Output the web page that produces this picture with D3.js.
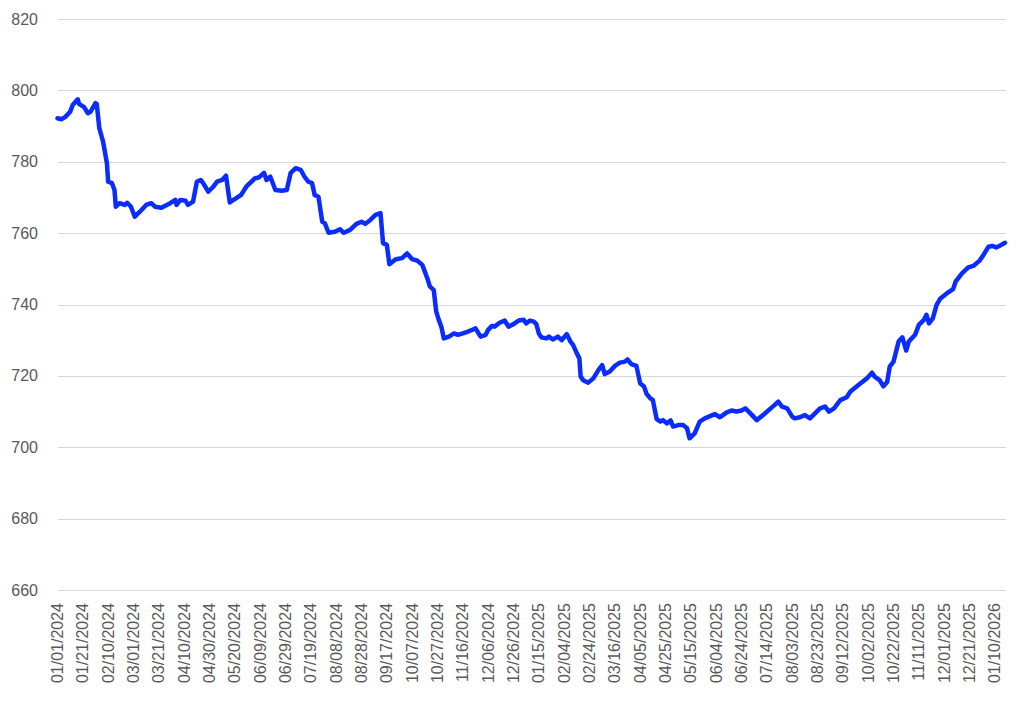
<!DOCTYPE html>
<html>
<head>
<meta charset="utf-8">
<script src="https://cdn.jsdelivr.net/npm/d3@7"></script>
<style>
  body { margin: 0; background: #fff; }
  text { font-family: "Liberation Sans", Arial, sans-serif; font-size: 16px; fill: #595959; }
</style>
</head>
<body>
<div id="chart"></div>
<script>
// days since 01/01/2024
const dayOffsets = [
  0, 3, 6, 10, 12, 16, 17, 21, 24, 26, 30, 31, 33, 36, 39, 40, 43, 45, 46, 49,
  53, 55, 58, 61, 65, 70, 74, 77, 82, 89, 93, 94, 97, 101, 103, 107, 110, 113, 115, 119,
  123, 126, 130, 133, 136, 142, 145, 149, 156, 159, 163, 165, 168, 172, 177, 181, 184, 188, 192, 195,
  198, 201, 203, 206, 209, 211, 214, 219, 223, 226, 231, 236, 240, 243, 247, 251, 255, 257, 260, 262,
  267, 272, 276, 280, 284, 288, 292, 294, 297, 299, 301, 303, 305, 309, 313, 316, 320, 324, 328, 330,
  334, 338, 340, 343, 345, 349, 353, 356, 360, 364, 368, 370, 373, 376, 378, 380, 382, 386, 388, 391,
  395, 398, 402, 405, 407, 410, 412, 413, 415, 419, 423, 427, 430, 432, 436, 440, 444, 448, 450, 453,
  457, 460, 463, 465, 468, 470, 473, 476, 478, 481, 484, 486, 490, 494, 497, 499, 503, 507, 511, 517,
  519, 523, 528, 532, 536, 540, 543, 547, 552, 557, 563, 566, 569, 572, 576, 580, 582, 586, 590, 594,
  598, 602, 606, 609, 613, 618, 623, 626, 634, 639, 643, 645, 649, 652, 655, 657, 660, 664, 667, 670,
  672, 677, 680, 684, 686, 688, 691, 694, 697, 702, 707, 709, 714, 719, 723, 728, 731, 735, 738, 741,
  745, 748
];

const values = [
  792.2, 791.9, 792.5, 794.0, 795.9, 797.5, 796.2, 795.3, 793.6, 794.0, 796.4, 796.2, 789.4, 785.6, 779.6, 774.4, 774.0, 772.1, 767.4, 768.4,
  767.9, 768.5, 767.4, 764.6, 766.0, 767.9, 768.4, 767.4, 767.1, 768.4, 769.3, 767.9, 769.3, 769.1, 767.9, 768.8, 774.4, 774.9, 774.0, 771.6,
  773.0, 774.4, 774.9, 776.1, 768.6, 770.0, 770.7, 773.0, 775.4, 775.6, 776.9, 774.9, 775.8, 772.1, 771.9, 772.1, 776.8, 778.2, 777.7, 775.8,
  774.4, 774.0, 770.7, 770.2, 763.2, 762.8, 760.1, 760.4, 761.1, 760.1, 760.9, 762.6, 763.2, 762.6, 763.7, 765.1, 765.6, 757.2, 756.7, 751.3,
  752.7, 753.0, 754.3, 752.7, 752.3, 751.1, 747.3, 745.0, 744.1, 738.0, 735.7, 733.8, 730.5, 731.0, 731.9, 731.5, 731.9, 732.4, 733.0, 733.3,
  731.0, 731.5, 732.9, 734.0, 733.8, 734.9, 735.5, 733.8, 734.5, 735.5, 735.7, 734.7, 735.5, 735.2, 734.5, 731.9, 730.8, 730.5, 731.0, 730.2,
  731.0, 730.0, 731.7, 729.6, 728.7, 726.3, 724.9, 719.8, 718.8, 718.1, 719.3, 721.6, 723.0, 720.5, 721.2, 722.8, 723.7, 724.0, 724.6, 723.3,
  722.8, 717.9, 717.0, 715.0, 713.7, 713.2, 707.9, 707.2, 707.6, 706.7, 707.5, 705.8, 706.2, 706.2, 705.3, 702.5, 703.9, 707.2, 708.1, 709.0,
  709.3, 708.4, 709.7, 710.3, 710.0, 710.3, 710.9, 709.5, 707.6, 709.0, 710.9, 711.8, 712.8, 711.4, 710.9, 708.6, 708.1, 708.4, 709.0, 708.1,
  709.5, 710.9, 711.4, 710.0, 710.9, 713.2, 714.0, 715.6, 717.9, 719.3, 720.9, 719.8, 718.8, 717.1, 718.3, 722.6, 724.0, 729.6, 730.8, 727.1,
  729.6, 731.5, 734.3, 735.7, 737.1, 734.7, 736.1, 739.9, 741.7, 743.1, 744.3, 746.4, 748.7, 750.4, 750.8, 752.3, 753.9, 756.2, 756.4, 756.0,
  756.7, 757.3
];

const yTicks = [660, 680, 700, 720, 740, 760, 780, 800, 820];
const startDate = new Date(Date.UTC(2024, 0, 1));
const endDate = new Date(Date.UTC(2026, 0, 19));
const tickStep = 20;

const width = 1024;
const height = 704;

const svg = d3.select('#chart')
  .append('svg')
  .attr('width', width)
  .attr('height', height);

const x = d3.scaleUtc()
  .domain([startDate, d3.utcDay.offset(startDate, 748)])
  .range([57.5, 1005]);

const y = d3.scaleLinear()
  .domain([660, 820])
  .range([590, 19]);

// gridlines + y labels
svg.append('g')
  .selectAll('line')
  .data(yTicks)
  .enter()
  .append('line')
  .attr('x1', 58)
  .attr('x2', 1006)
  .attr('y1', d => Math.round(y(d)) + 0.5)
  .attr('y2', d => Math.round(y(d)) + 0.5)
  .attr('stroke', '#d6d6d6')
  .attr('stroke-width', 1.2);

svg.append('g')
  .selectAll('text')
  .data(yTicks)
  .enter()
  .append('text')
  .attr('x', 38)
  .attr('y', d => y(d))
  .attr('dy', '0.35em')
  .attr('text-anchor', 'end')
  .text(d => d);

// x labels, every 20 days
const fmt = d3.utcFormat('%m/%d/%Y');
const xTicks = d3.utcDay.range(startDate, endDate, tickStep);

svg.append('g')
  .selectAll('text')
  .data(xTicks)
  .enter()
  .append('text')
  .attr('transform', d => `translate(${x(d)},603) rotate(-90)`)
  .attr('dy', '0.35em')
  .attr('text-anchor', 'end')
  .text(d => fmt(d));

const points = dayOffsets.map((d, i) => ({ date: d3.utcDay.offset(startDate, d), value: values[i] }));

const line = d3.line()
  .x(d => x(d.date))
  .y(d => y(d.value));

svg.append('path')
  .datum(points)
  .attr('d', line)
  .attr('fill', 'none')
  .attr('stroke', '#0a2cff')
  .attr('stroke-width', 4.5)
  .attr('stroke-linejoin', 'round')
  .attr('stroke-linecap', 'round');
</script>
</body>
</html>
